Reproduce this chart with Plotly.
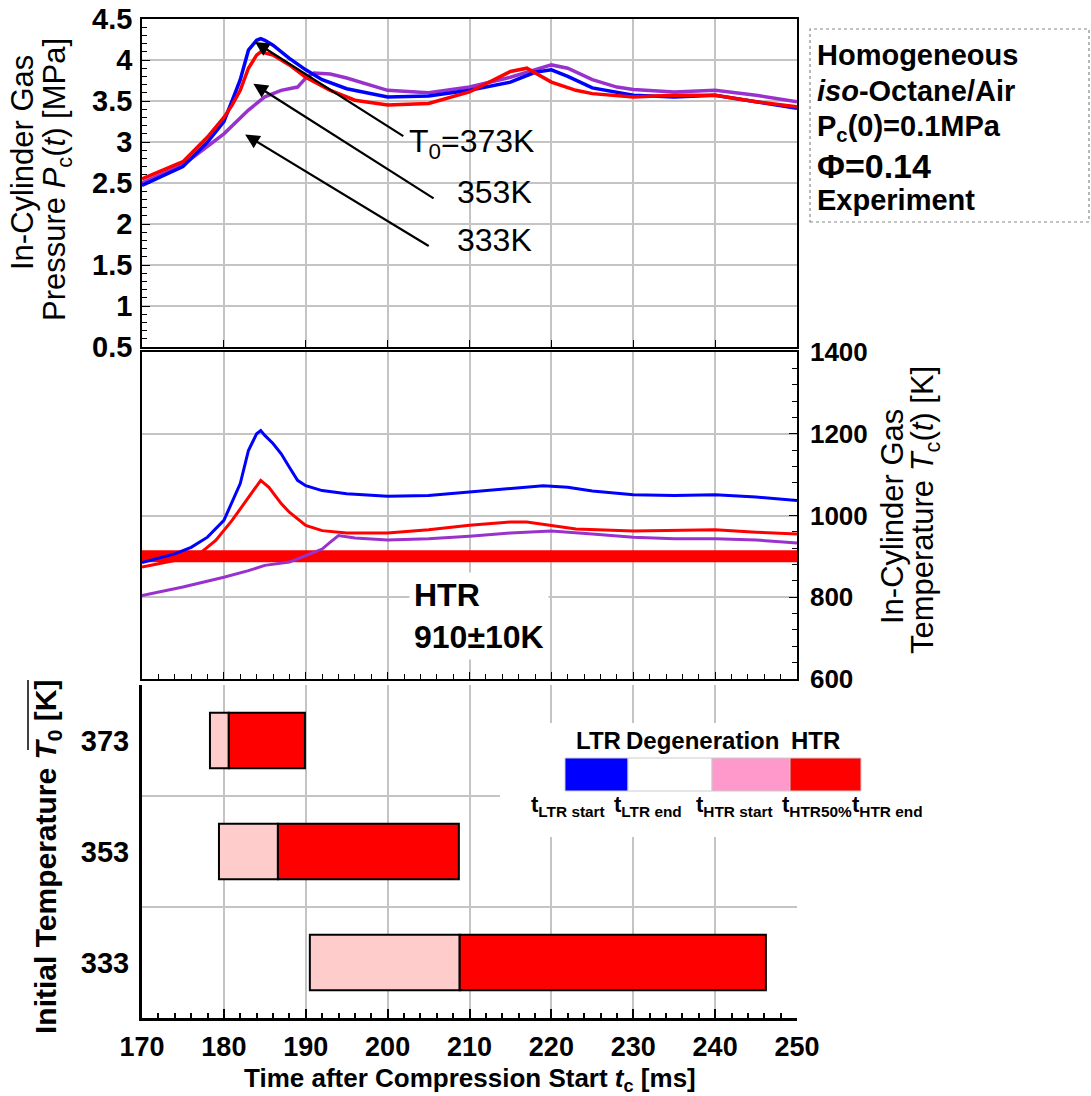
import plotly.graph_objects as go

W, H = 1091, 1096
def px(x):
    return x / W
def py(y):
    return 1 - y / H

# ---------------- data ----------------
# Pressure (top panel)
t_p373 = [170, 175, 178, 180, 181, 182, 183, 184, 184.5, 185, 186, 188, 190, 192, 195, 200, 205, 210, 215, 218, 220, 222, 225, 230, 235, 240, 245, 250]
p_373 = [2.47, 2.70, 3.00, 3.25, 3.50, 3.76, 4.12, 4.24, 4.26, 4.24, 4.18, 4.02, 3.88, 3.76, 3.65, 3.55, 3.56, 3.63, 3.73, 3.85, 3.88, 3.80, 3.66, 3.57, 3.55, 3.57, 3.49, 3.41]

t_p353 = [170, 175, 178, 180, 181, 182, 183, 184, 184.5, 185, 186, 188, 190, 193, 196, 200, 205, 210, 215, 217, 220, 223, 225, 230, 235, 240, 245, 250]
p_353 = [2.55, 2.76, 3.06, 3.30, 3.45, 3.63, 3.90, 4.06, 4.10, 4.09, 4.06, 3.94, 3.79, 3.63, 3.51, 3.45, 3.47, 3.61, 3.86, 3.90, 3.73, 3.63, 3.59, 3.55, 3.57, 3.57, 3.49, 3.43]

t_p333 = [170, 175, 180, 183, 185, 187, 189, 190, 191, 193, 195, 200, 205, 210, 215, 220, 222, 225, 228, 230, 235, 240, 245, 250]
p_333 = [2.50, 2.72, 3.10, 3.39, 3.55, 3.63, 3.67, 3.78, 3.84, 3.83, 3.78, 3.63, 3.60, 3.67, 3.79, 3.94, 3.90, 3.76, 3.67, 3.64, 3.61, 3.63, 3.57, 3.49]

# Temperature (middle panel)
t_T373 = [170, 174, 176, 178, 180, 182, 183, 184, 184.5, 185, 186, 187, 188, 189, 190, 192, 195, 200, 205, 210, 215, 219, 222, 225, 230, 235, 240, 245, 250]
T_373 = [885, 906, 922, 947, 988, 1078, 1159, 1200, 1208, 1196, 1176, 1151, 1118, 1086, 1073, 1061, 1053, 1047, 1049, 1057, 1065, 1073, 1069, 1060, 1051, 1049, 1051, 1045, 1037]

t_T353 = [170, 174, 177, 179, 181, 183, 184.5, 185.5, 187, 188, 190, 192, 195, 200, 205, 210, 215, 217, 220, 223, 230, 235, 240, 245, 250]
T_353 = [874, 890, 906, 939, 988, 1045, 1086, 1069, 1029, 1008, 976, 963, 957, 957, 965, 976, 984, 984, 976, 967, 962, 963, 965, 959, 955]

t_T333 = [170, 175, 180, 183, 185, 188, 190, 192, 193, 194, 196, 200, 205, 210, 215, 220, 225, 230, 235, 240, 245, 250]
T_333 = [804, 825, 849, 865, 878, 886, 902, 918, 935, 951, 945, 940, 943, 949, 957, 962, 955, 947, 943, 943, 940, 933]

htr_T = 900           # HTR threshold line (910±10K band as drawn)
t_range = [170, 250]

# Bottom panel (HTR timing bars)
t0_labels = ["373", "353", "333"]
htr_start = [178.3, 179.4, 190.5]
htr_50 = [180.6, 186.6, 208.8]
htr_end = [189.9, 208.7, 246.2]

BLUE = "#0000FF"
RED = "#FF0000"
PURPLE = "#9932CC"
GRID = "#C4C4C4"
FONT = "Liberation Sans, Arial, sans-serif"
NARROW = "Liberation Sans Narrow, Arial Narrow, Liberation Sans, Arial, sans-serif"

fig = go.Figure()

# top panel
for t, v, c in [(t_p333, p_333, PURPLE), (t_p373, p_373, BLUE), (t_p353, p_353, RED)]:
    fig.add_trace(go.Scatter(x=t, y=v, mode="lines", line=dict(color=c, width=3.5),
                             xaxis="x", yaxis="y", showlegend=False))

# middle panel
fig.add_trace(go.Scatter(x=t_range, y=[htr_T, htr_T], mode="lines", line=dict(color=RED, width=12),
                         xaxis="x2", yaxis="y2", showlegend=False))
for t, v, c in [(t_T333, T_333, PURPLE), (t_T373, T_373, BLUE), (t_T353, T_353, RED)]:
    fig.add_trace(go.Scatter(x=t, y=v, mode="lines", line=dict(color=c, width=3),
                             xaxis="x2", yaxis="y2", showlegend=False))

# bottom panel bars
fig.add_trace(go.Bar(orientation="h", y=t0_labels, base=htr_start,
                     x=[m - s for s, m in zip(htr_start, htr_50)], width=0.5,
                     marker=dict(color="#FFCCCC", line=dict(color="black", width=2)),
                     xaxis="x3", yaxis="y3", showlegend=False))
fig.add_trace(go.Bar(orientation="h", y=t0_labels, base=htr_50,
                     x=[e - m for m, e in zip(htr_50, htr_end)], width=0.5,
                     marker=dict(color=RED, line=dict(color="black", width=2)),
                     xaxis="x3", yaxis="y3", showlegend=False))

xdom = [px(142), px(797)]
tickfont = dict(family=FONT, size=29, color="black", weight="bold")
tickfont_x = dict(family=FONT, size=27, color="black", weight="bold")
tickfont_r = dict(family=FONT, size=26, color="black", weight="bold")
common_x = dict(domain=xdom, range=t_range, dtick=10, tick0=170, showgrid=True, gridcolor=GRID,
                gridwidth=1.5, showline=True, linecolor="black", linewidth=1.5, mirror=True,
                ticks="inside", ticklen=7, tickcolor="black", zeroline=False, automargin=False)

fig.update_layout(
    width=W, height=H, margin=dict(l=0, r=0, t=0, b=0, autoexpand=False),
    plot_bgcolor="white", paper_bgcolor="white", showlegend=False,
    barmode="overlay",
    xaxis=dict(**common_x, anchor="y", showticklabels=False),
    yaxis=dict(domain=[py(347), py(19)], range=[0.5, 4.5], dtick=0.5, tick0=0.5, anchor="x",
               showgrid=True, gridcolor=GRID, gridwidth=1.5, showline=True, linecolor="black",
               linewidth=1.5, mirror=True, ticks="inside", ticklen=8, tickcolor="black",
               minor=dict(dtick=0.1, ticks="inside", ticklen=5, tickcolor="black", showgrid=False),
               tickfont=tickfont, zeroline=False, ticklabelstandoff=2, automargin=False),
    xaxis2=dict(**common_x, anchor="y2", showticklabels=False,
                minor=dict(dtick=2, ticks="inside", ticklen=5, tickcolor="black", showgrid=False)),
    yaxis2=dict(domain=[py(679), py(352)], range=[600, 1400], dtick=200, tick0=600, anchor="x2",
                side="right", showgrid=True, gridcolor=GRID, gridwidth=1.5, showline=True,
                linecolor="black", linewidth=1.5, mirror=True, ticks="inside", ticklen=8,
                tickcolor="black",
                minor=dict(dtick=40, ticks="inside", ticklen=5, tickcolor="black", showgrid=False),
                tickfont=tickfont_r, zeroline=False, ticklabelstandoff=6, automargin=False),
    xaxis3=dict(domain=xdom, range=t_range, dtick=10, tick0=170, showgrid=True, gridcolor=GRID,
                gridwidth=1.5, showline=True, linecolor="black", linewidth=3, mirror=False,
                ticks="inside", ticklen=9, tickcolor="black", tickwidth=1.5, zeroline=False,
                anchor="y3", tickfont=tickfont_x, ticklabelstandoff=3, automargin=False,
                minor=dict(dtick=2, ticks="inside", ticklen=5, tickcolor="black", showgrid=False)),
    yaxis3=dict(domain=[py(1018), py(685)], type="category", categoryarray=["333", "353", "373"],
                categoryorder="array", range=[-0.5, 2.5], tickson="boundaries", ticks="",
                showgrid=True, gridcolor=GRID, gridwidth=1.5, showline=True, linecolor="black",
                linewidth=3, anchor="x3", tickfont=tickfont, ticklabelstandoff=4, automargin=False),
)

shapes = []
annotations = []

# title annotations (each rotated line placed separately)
title_font = dict(family=FONT, size=31, color="black")
for txt, xc, yc in [("In-Cylinder Gas", 23, 163),
                    ("Pressure <i>P</i><sub>c</sub>(<i>t</i>) [MPa]", 57, 180),
                    ("In-Cylinder Gas", 892, 517),
                    ("Temperature <i>T</i><sub>c</sub>(<i>t</i>) [K]", 925, 510)]:
    annotations.append(dict(xref="paper", yref="paper", x=px(xc), y=py(yc), textangle=-90, text=txt,
                            showarrow=False, font=title_font, xanchor="center", yanchor="middle"))
annotations.append(dict(xref="paper", yref="paper", x=px(47), y=py(857), textangle=-90,
                        text="Initial Temperature <i>T</i><sub>0</sub> [K]",
                        showarrow=False, font=dict(family=FONT, size=30, color="black", weight="bold"),
                        xanchor="center", yanchor="middle"))
annotations.append(dict(xref="paper", yref="paper", x=px(470), y=py(1098),
                        text="Time after Compression Start <i>t</i><sub>c</sub> [ms]",
                        showarrow=False, font=dict(family=FONT, size=26, color="black", weight="bold"),
                        xanchor="center", yanchor="bottom"))
# overline over T0 [K]
shapes.append(dict(type="line", xref="paper", yref="paper", x0=px(28), x1=px(28), y0=py(680), y1=py(750),
                   line=dict(color="black", width=1.5)))

# top-right info box
shapes.append(dict(type="rect", xref="paper", yref="paper", x0=px(810), x1=px(1089), y0=py(222), y1=py(29),
                   line=dict(color="#888888", width=1.2, dash="dot"), fillcolor="white"))
box_font = dict(family=FONT, size=29, color="black", weight="bold")
for txt, yc, fs in [("Homogeneous", 55, 29), ("<i>iso</i>-Octane/Air", 91, 29),
                    ("P<sub>c</sub>(0)=0.1MPa", 128, 29), ("Φ=0.14", 166, 34), ("Experiment", 200, 29)]:
    annotations.append(dict(xref="paper", yref="paper", x=px(815), y=py(yc), text=txt, showarrow=False,
                            font=dict(box_font, size=fs), xanchor="left", yanchor="middle"))

# arrows in pressure panel
arrow_specs = [
    (183.8, 4.22, 202.1, 3.06),
    (183.6, 3.71, 205.8, 2.30),
    (182.6, 3.09, 205.2, 1.72),
]
for hx, hy, tx, ty in arrow_specs:
    annotations.append(dict(xref="x", yref="y", axref="x", ayref="y", x=hx, y=hy, ax=tx, ay=ty,
                            text="", showarrow=True, arrowhead=2, arrowsize=1.3, arrowwidth=2.2,
                            arrowcolor="black"))
lab_font = dict(family=FONT, size=32, color="black")
annotations.append(dict(xref="paper", yref="paper", x=px(407), y=py(143), text="T<sub>0</sub>=373K",
                        showarrow=False, font=lab_font, xanchor="left", yanchor="middle"))
annotations.append(dict(xref="paper", yref="paper", x=px(534), y=py(192), text="353K",
                        showarrow=False, font=lab_font, xanchor="right", yanchor="middle"))
annotations.append(dict(xref="paper", yref="paper", x=px(534), y=py(240), text="333K",
                        showarrow=False, font=lab_font, xanchor="right", yanchor="middle"))

# HTR label in temperature panel
annotations.append(dict(xref="paper", yref="paper", x=px(409), y=py(616), text="HTR<br>910±10K",
                        showarrow=False, align="left", xanchor="left", yanchor="middle",
                        bgcolor="white", borderpad=4,
                        font=dict(family=FONT, size=32, color="black", weight="bold")))

# legend in bottom panel
shapes.append(dict(type="rect", xref="paper", yref="paper", x0=px(500), x1=px(935), y0=py(837), y1=py(723),
                   line=dict(width=0), fillcolor="white", layer="above"))
seg = [(565, 628, BLUE), (628, 712, "white"), (712, 790, "#FF99CC"), (790, 861, RED)]
for x0, x1, c in seg:
    shapes.append(dict(type="rect", xref="paper", yref="paper", x0=px(x0), x1=px(x1), y0=py(791), y1=py(758),
                       line=dict(color="#CCCCCC", width=1), fillcolor=c, layer="above"))
leg_font = dict(family=NARROW, size=24, color="black", weight="bold")
for txt, xc in [("LTR", 598), ("Degeneration", 702), ("HTR", 815)]:
    annotations.append(dict(xref="paper", yref="paper", x=px(xc), y=py(740), text=txt, showarrow=False,
                            font=leg_font, xanchor="center", yanchor="middle"))
for txt, xl in [("t<sub>LTR start</sub>", 529), ("t<sub>LTR end</sub>", 612), ("t<sub>HTR start</sub>", 694),
                ("t<sub>HTR50%</sub>", 780), ("t<sub>HTR end</sub>", 850)]:
    annotations.append(dict(xref="paper", yref="paper", x=px(xl), y=py(806), text=txt, showarrow=False,
                            font=dict(family=NARROW, size=22, color="black", weight="bold"),
                            xanchor="left", yanchor="middle"))

fig.update_layout(shapes=shapes, annotations=annotations)
fig.write_html("out.html")
